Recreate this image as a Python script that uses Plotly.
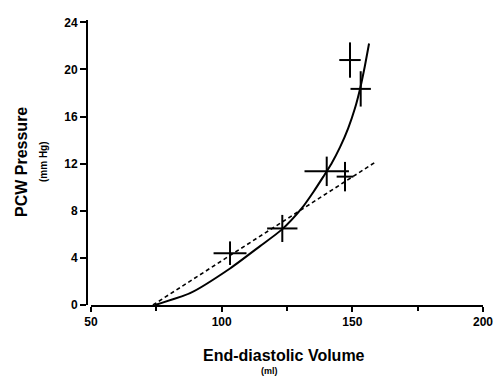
import plotly.graph_objects as go

# Measured points (mean ± error)
edv = [103.2, 123.2, 140.2, 147.2, 149.1, 153.2]
pcw = [4.4, 6.5, 11.35, 10.9, 20.8, 18.35]
edv_err = [6.3, 5.8, 8.5, 3.2, 4.1, 3.9]
pcw_err = [1.0, 1.15, 1.25, 1.25, 1.5, 1.5]

# Solid fitted curve
curve_x = [74.5, 87.9, 103.2, 114.7, 123.0, 130.6, 135.1, 138.9, 142.0, 145.3, 148.4, 151.0, 152.9, 154.8, 156.4]
curve_y = [0.0, 1.0, 3.1, 5.0, 6.4, 8.2, 9.6, 10.9, 12.0, 13.4, 15.0, 16.7, 18.3, 20.3, 22.2]

# Dashed linear fit
line_x = [73.7, 159.3]
line_y = [0.0, 12.2]

x_ticks = [50, 100, 150, 200]
y_ticks = [0, 4, 8, 12, 16, 20, 24]

FONT = "Liberation Sans, Arial, sans-serif"

fig = go.Figure()
fig.add_trace(go.Scatter(x=line_x, y=line_y, mode="lines",
                         line=dict(color="black", width=1.6, dash="4px,3px"),
                         hoverinfo="skip"))
fig.add_trace(go.Scatter(x=curve_x, y=curve_y, mode="lines",
                         line=dict(color="black", width=2, shape="spline", smoothing=0.6),
                         hoverinfo="skip"))
fig.add_trace(go.Scatter(x=edv, y=pcw, mode="markers",
                         marker=dict(size=1, color="black"),
                         error_x=dict(type="data", array=edv_err, color="black", thickness=2, width=0),
                         error_y=dict(type="data", array=pcw_err, color="black", thickness=2, width=0)))

fig.update_layout(
    width=495, height=377,
    margin=dict(l=87, r=12, t=20, b=72),
    paper_bgcolor="white", plot_bgcolor="white",
    showlegend=False,
    font=dict(family=FONT, color="black"),
    xaxis=dict(range=[50, 200], domain=[0.0101, 1], tickvals=x_ticks,
               automargin=False,
               showgrid=False, zeroline=False, showline=True, linecolor="black", linewidth=2,
               ticks="outside", ticklen=5, tickwidth=2, tickcolor="black",
               tickfont=dict(size=12, family=FONT, weight="bold"),
               minor=dict(tickvals=[75, 125, 175], ticks="outside", ticklen=4, tickwidth=1.5, tickcolor="black")),
    yaxis=dict(range=[0, 24.2], tickvals=y_ticks,
               automargin=False,
               anchor="free", position=0,
               showgrid=False, zeroline=False, showline=True, linecolor="black", linewidth=2,
               ticks="outside", ticklen=6, tickwidth=2, tickcolor="black",
               tickfont=dict(size=12, family=FONT, weight="bold")),
)

fig.add_annotation(text="<b>PCW Pressure</b>", x=21, y=162, showarrow=False,
                   textangle=-90, font=dict(size=16, family=FONT))
fig.add_annotation(text="<b>(mm Hg)</b>", x=43, y=162, showarrow=False,
                   textangle=-90, font=dict(size=10, family=FONT))
fig.add_annotation(text="<b>End-diastolic Volume</b>", x=284, y=355, showarrow=False,
                   font=dict(size=16, family=FONT))
fig.add_annotation(text="<b>(ml)</b>", x=269, y=371, showarrow=False,
                   font=dict(size=9, family=FONT))

# convert pixel positions of annotations to paper coordinates
pl, pr, pt, pb = 87, 12, 20, 72
pw, ph = 495 - pl - pr, 377 - pt - pb
for ann in fig.layout.annotations:
    px, py = ann.x, ann.y
    ann.x = (px - pl) / pw
    ann.y = 1 - (py - pt) / ph
    ann.xref = "paper"
    ann.yref = "paper"
    ann.xanchor = "center"
    ann.yanchor = "middle"

fig.write_html("out.html")
